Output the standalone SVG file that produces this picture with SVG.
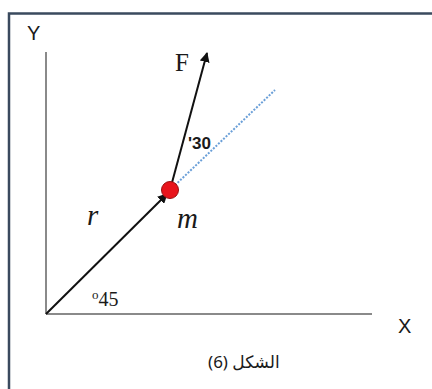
<svg xmlns="http://www.w3.org/2000/svg" width="432" height="389" viewBox="0 0 432 389">
<style>
.axis{stroke:#8a8a8a;stroke-width:2;fill:none}
.vec{stroke:#111;stroke-width:2;fill:none}
.sans{font-family:"Liberation Sans",Arial,sans-serif;fill:#1a1a1a}
.serif{font-family:"Liberation Serif","Times New Roman",serif;fill:#1a1a1a}
.cap{font-family:"Noto Sans","DejaVu Sans",sans-serif;fill:#1a1a1a;font-size:17px}
</style>
<defs>
<marker id="ah" viewBox="0 0 10 10" refX="9" refY="5" markerWidth="5" markerHeight="5" orient="auto" markerUnits="strokeWidth">
<path d="M0,0 L10,5 L0,10 Z" fill="#111"/>
</marker>
</defs>
<rect width="432" height="389" fill="#fff"/>
<g id="frame">
<path d="M9,389 V13.5 H432" fill="none" stroke="#3a4a5e" stroke-width="2.5"/>
</g>
<g id="axes">
<line class="axis" x1="46" y1="52" x2="46" y2="314"/>
<line class="axis" x1="46" y1="314" x2="372" y2="314"/>
</g>
<g id="connectors">
<line x1="170" y1="190" x2="275" y2="90" stroke="#6a9fd8" stroke-width="2" stroke-dasharray="2,1.5"/>
<line class="vec" x1="46" y1="314" x2="167" y2="194" marker-end="url(#ah)"/>
<line class="vec" x1="170" y1="190" x2="207" y2="53" marker-end="url(#ah)"/>
</g>
<g id="mass">
<circle cx="170" cy="190" r="8.5" fill="#e8141c" stroke="#9a1010" stroke-width="1"/>
</g>
<g id="labels">
<text class="sans" x="27" y="40" font-size="20">Y</text>
<text class="sans" x="398" y="333" font-size="20">X</text>
<text class="serif" x="175" y="71" font-size="25">F</text>
<text class="sans" x="188" y="149" font-size="17" font-weight="bold">'30</text>
<text class="serif" x="87" y="225" font-size="29" font-style="italic">r</text>
<text class="serif" x="177" y="228" font-size="29" font-style="italic">m</text>
<text class="serif" x="92" y="306" font-size="20"><tspan font-size="13" dy="-7">o</tspan><tspan dy="7">45</tspan></text>
<text class="cap" x="218" y="368" text-anchor="middle">(6)</text>
<text class="cap" x="256" y="368" text-anchor="middle" font-size="15">الشكل</text>
</g>
</svg>
